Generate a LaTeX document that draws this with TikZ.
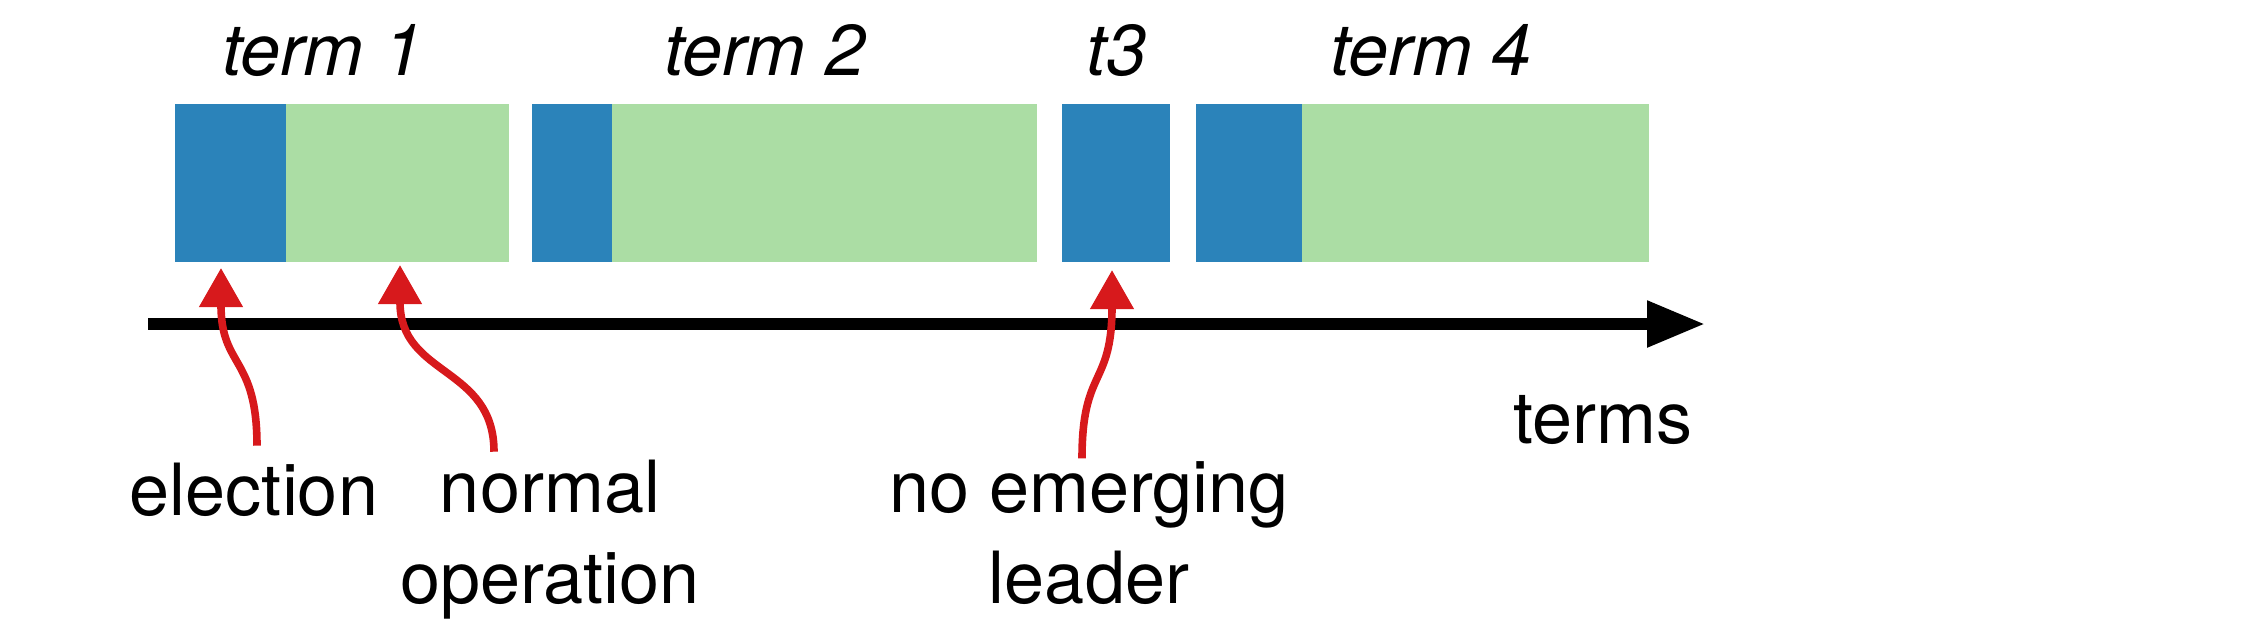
\documentclass[tikz,border=0pt]{standalone}
\usepackage{fontspec}
\setmainfont{TeX Gyre Heros}
\usetikzlibrary{arrows.meta, calc}
\definecolor{elecblue}{HTML}{2B83BA}
\definecolor{opgreen}{HTML}{ABDDA4}
\definecolor{ptrred}{HTML}{D7191C}

\begin{document}
\begin{tikzpicture}[x=0.25pt, y=0.25pt,
            lbl/.style={inner sep=0pt, align=center, anchor=base, font=\fontsize{18}{22.75}\selectfont},
            termlbl/.style={inner sep=0pt, anchor=base, font=\fontsize{18}{22.75}\selectfont\itshape},
            ptr/.style={draw=ptrred, line width=1.9pt, -{Triangle[length=9.75pt, width=10.5pt]}}]
            \useasboundingbox (0,0) rectangle (2252,637);
            % Terms
            \foreach \xa/\xb/\col in {175/286/elecblue, 286/509/opgreen, 532/612/elecblue,
                612/1037/opgreen, 1062/1170/elecblue, 1196/1302/elecblue, 1302/1649/opgreen} {
                \fill[\col] (\xa,375) rectangle (\xb,533);
            }
            \node[termlbl] (term1) at (323,562) {term 1};
            \node[termlbl] (term2) at (765,562) {term 2};
            \node[termlbl] (term3) at (1117,562) {t3};
            \node[termlbl] (term4) at (1431,562) {term 4};
            % Axis
            \coordinate (ax0) at (148,313);
            \coordinate (ax1) at (1705,313);
            \draw[line width=2.9pt, -{Triangle[length=14.5pt, width=11pt]}] (ax0) -- (ax1);
            \node[lbl] (terms) at (1603,194) {terms};
            % Events (base = last line)
            \node[lbl] (elec) at (254,122) {election};
            \node[lbl] (norm) at (550,34) {normal\\operation};
            \node[lbl] (noldr) at (1089,34) {no emerging\\leader};
            \coordinate (elecTip) at (221,369);
            \coordinate (normTip) at (400,372);
            \coordinate (noldrTip) at (1112,367);
            \draw[ptr] ($(elec.north)+(3,16)$) .. controls +(0,90) and ($(elecTip)+(0,-100)$) .. (elecTip);
            \draw[ptr] ($(norm.north)+(-56,7)$) .. controls +(0,86) and ($(normTip)+(0,-112)$) .. (normTip);
            \draw[ptr] ($(noldr.north)+(-7,2)$) .. controls +(0,91) and ($(noldrTip)+(0,-117)$) .. (noldrTip);
\end{tikzpicture}
\end{document}
